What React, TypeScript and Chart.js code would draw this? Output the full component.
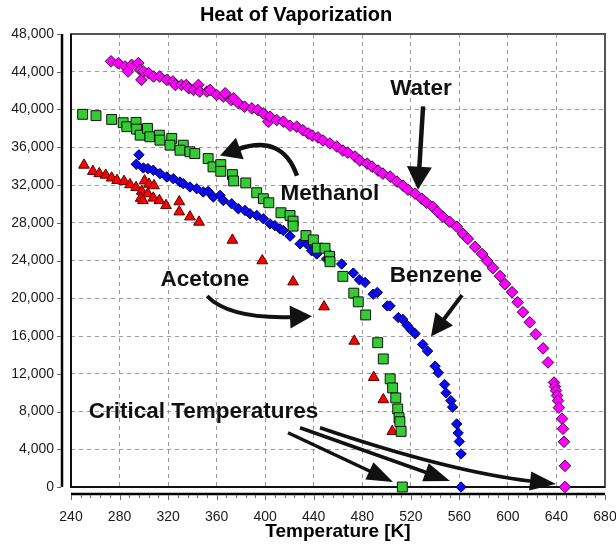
import React, { useEffect, useRef } from 'react';
import { Chart, registerables } from 'chart.js';

Chart.register(...registerables);

const FONT = '"Liberation Sans", Arial, Helvetica, sans-serif';

// Axis ranges / ticks
const X_MIN = 240;
const X_MAX = 680;
const X_STEP = 40;
const X_MINOR = 8;
const Y_MIN = 0;
const Y_MAX = 48000;
const Y_STEP = 4000;

// [Temperature K, Heat of vaporization J/mol]
const water: [number, number][] = [
  [273, 45100], [279, 44900], [284.5, 44560], [287, 44030], [290, 44730], [295.5, 44910],
  [297, 44200], [298, 43140], [299.6, 44030], [304, 43850], [308, 43500], [313, 43500],
  [319, 43140], [324, 42970], [326, 42600], [331, 42600], [335, 42600], [337, 42250],
  [341, 42070], [345, 42600], [346, 41900], [352, 41900], [354.5, 42070], [360, 41540],
  [365.5, 41370], [367, 41720], [372, 41010], [374, 41190], [378, 40660], [383, 40300],
  [389, 40120], [394, 39940], [398.5, 39590], [402.6, 38710], [404, 39240], [409.5, 38880],
  [415, 38710], [420.5, 38280], [426, 38180], [431, 37810], [435.5, 37460], [438.6, 37250],
  [443.5, 37040], [447.6, 36720], [453.4, 36400], [459, 36080], [464, 35650], [468, 35440],
  [474, 35020], [478, 34590], [484, 34270], [488, 33950], [493, 33530], [497, 33210],
  [503, 32890], [508.6, 32360], [513.6, 31930], [517.7, 31500], [523.5, 31080], [529, 30550],
  [533, 30120], [538, 29690], [542, 29160], [546.5, 28630], [552, 28100], [558, 27570],
  [563, 26820], [567, 26290], [573, 25440], [578.7, 24690], [583, 23950], [587.7, 23200],
  [593.5, 22350], [597.6, 21500], [603.4, 20650], [608, 19580], [612.4, 18520], [618, 17450],
  [623, 16180], [629, 14690], [633, 13200], [638, 11070], [638.8, 10640], [639.6, 10220],
  [640.5, 9690], [641.3, 9150], [642, 8410], [644.6, 7240], [645.4, 6170], [646.2, 4790],
  [647, 2240], [647, 0],
];

const methanol: [number, number][] = [
  [249.6, 39490], [260.6, 39350], [273.5, 38950], [283, 38600], [286, 38180], [293.6, 38630],
  [294, 37920], [297, 37280], [303, 38000], [305, 37110], [312.8, 37280], [313.3, 36750],
  [323, 36930], [321.6, 36220], [332.5, 36220], [329.8, 35690], [338, 35520], [342, 35330],
  [353, 34800], [357, 33920], [363.4, 34160], [363.4, 33450], [373, 33100], [374, 32430],
  [384, 32220], [393, 31180], [398.5, 30550], [403, 30120], [413, 29060], [420.5, 28770],
  [423, 28170], [423, 27640], [433.6, 26640], [439.7, 26180], [443, 25300], [449.3, 25300],
  [453, 24450], [453.4, 23870], [464, 22320], [473, 20540], [476.7, 19620], [482.8, 18230],
  [492.7, 15290], [497.3, 13570], [503, 11460], [505, 10500], [507.6, 9440], [509.2, 8270],
  [510.3, 7340], [511, 6920], [512, 5890], [513, 0],
];

const benzene: [number, number][] = [
  [296, 35200], [293.8, 34200], [299.6, 33810], [303.4, 33740], [307.8, 33560], [313.3, 33210],
  [318.9, 32850], [324.3, 32670], [329.8, 32320], [332.5, 32140], [338, 31790], [343.6, 31610],
  [349, 31260], [353, 31320], [357.3, 30730], [362.8, 30900], [365.5, 30360], [372.4, 30010],
  [377.9, 29480], [383.4, 29300], [387.5, 28950], [393, 28770], [398.5, 28420], [404, 27880],
  [408, 27700], [412.2, 27350], [415, 27170], [420.5, 26580], [428.7, 25760], [434.2, 25760],
  [438.3, 25040], [442.5, 24690], [450.7, 24160], [453.4, 24590], [463, 23630], [472.6, 22670],
  [477.6, 21960], [482.3, 21680], [489, 20430], [492.4, 20620], [500.6, 19190], [502.9, 19190],
  [509.7, 17950], [513.3, 17770], [516.9, 17140], [520.2, 16640], [523.5, 16250], [529.8, 15110],
  [533.8, 14400], [540, 12800], [542.7, 12100], [547.8, 10860], [549, 9970], [553, 9150],
  [554.4, 8460], [557.8, 6680], [559, 5720], [560, 4820], [561.4, 3510], [561.4, 0],
];

const acetone: [number, number][] = [
  [250.7, 34110], [258, 33450], [263.3, 33210], [268.6, 33050], [273.5, 32750], [278, 32490],
  [283.7, 32390], [288.6, 32040], [293.6, 31740], [300.6, 32440], [304.3, 32090], [308.4, 31930],
  [298.3, 31340], [303.3, 31080], [307.8, 30620], [312.8, 30360], [318.3, 29830], [297.4, 30600],
  [299.3, 30360], [329.2, 30230], [329.2, 29160], [338, 28630], [345.5, 28070], [373, 26160],
  [397.6, 23980], [423, 21740], [448.5, 19100], [473.4, 15460], [489.4, 11620], [497.3, 9260],
  [504.7, 5890],
];

// Annotation labels (data coordinates of text centre)
const noteTexts = ['Water', 'Methanol', 'Benzene', 'Acetone', 'Critical Temperatures'];
const noteAt: [number, number][] = [
  [528.4, 42150], [453.4, 31080], [540.8, 22350], [350.4, 21930], [349.2, 7980],
];

// Arrows: path points in data coordinates (2 = straight, 3 = quadratic), last = tip
const arrowPaths: [number, number][][] = [
  [[530.1, 40340], [525.9, 31500]],
  [[426.2, 32990], [413.9, 37460], [362.8, 35120]],
  [[562.2, 20330], [536.6, 15960]],
  [[352.1, 20220], [371.0, 17770], [438.6, 18090]],
  [[418.8, 5750], [505.3, 530]],
  [[428.7, 6280], [552.3, 640]],
  [[445.2, 6280], [552.3, 1600], [639.6, 320]],
];
const arrowStyle: [number, number, number][] = [
  // line width, head length, head width
  [4.5, 23, 25], [4.5, 21, 23], [4, 22, 22], [4, 22, 23], [3.5, 26, 19], [3.5, 26, 19], [3.5, 26, 19],
];

function toPts(arr: [number, number][]) {
  return arr.map(([x, y]) => ({ x, y }));
}

function drawArrow(ctx: CanvasRenderingContext2D, pts: [number, number][], lw: number, hl: number, hw: number) {
  const tip = pts[pts.length - 1];
  const prev = pts[pts.length - 2];
  let dx = tip[0] - prev[0];
  let dy = tip[1] - prev[1];
  const len = Math.hypot(dx, dy) || 1;
  dx /= len;
  dy /= len;
  const bx = tip[0] - dx * hl;
  const by = tip[1] - dy * hl;
  ctx.lineWidth = lw;
  ctx.lineCap = 'butt';
  ctx.beginPath();
  ctx.moveTo(pts[0][0], pts[0][1]);
  if (pts.length === 3) ctx.quadraticCurveTo(pts[1][0], pts[1][1], bx + dx * 3, by + dy * 3);
  else ctx.lineTo(bx + dx * 3, by + dy * 3);
  ctx.stroke();
  ctx.beginPath();
  ctx.moveTo(tip[0], tip[1]);
  ctx.lineTo(bx - (dy * hw) / 2, by + (dx * hw) / 2);
  ctx.lineTo(bx + (dy * hw) / 2, by - (dx * hw) / 2);
  ctx.closePath();
  ctx.fill();
}

const decor = {
  id: 'decor',
  beforeDatasetsDraw(chart: any) {
    const { ctx, chartArea: a, scales } = chart;
    const xs = scales.x;
    const ys = scales.y;
    ctx.save();
    // plot frame
    ctx.lineWidth = 2;
    ctx.strokeStyle = '#555';
    ctx.strokeRect(a.left, a.top, a.right - a.left, a.bottom - a.top);
    ctx.strokeStyle = '#111';
    ctx.beginPath();
    ctx.moveTo(a.left, a.top);
    ctx.lineTo(a.left, a.bottom);
    ctx.lineTo(a.right, a.bottom);
    ctx.stroke();

    // offset y axis
    const ax = a.left - 9;
    ctx.strokeStyle = '#000';
    ctx.lineWidth = 2.5;
    ctx.beginPath();
    ctx.moveTo(ax, a.top);
    ctx.lineTo(ax, a.bottom);
    ctx.stroke();
    ctx.lineWidth = 1;
    ctx.strokeStyle = '#666';
    ctx.beginPath();
    for (let v = Y_MIN; v <= Y_MAX; v += Y_STEP) {
      const py = Math.round(ys.getPixelForValue(v)) + 0.5;
      ctx.moveTo(ax - 5, py);
      ctx.lineTo(ax - 1, py);
    }
    ctx.stroke();

    // offset x axis
    const ay = a.bottom + 7;
    ctx.strokeStyle = '#000';
    ctx.lineWidth = 2.5;
    ctx.beginPath();
    ctx.moveTo(a.left, ay);
    ctx.lineTo(a.right, ay);
    ctx.stroke();
    ctx.lineWidth = 1;
    ctx.strokeStyle = '#666';
    ctx.beginPath();
    for (let v = X_MIN; v <= X_MAX; v += X_MINOR) {
      const px = Math.round(xs.getPixelForValue(v)) + 0.5;
      const major = (v - X_MIN) % X_STEP === 0;
      ctx.moveTo(px, ay + 1);
      ctx.lineTo(px, ay + (major ? 6 : 4));
    }
    ctx.stroke();
    ctx.restore();
  },
  afterDraw(chart: any) {
    const { ctx, scales } = chart;
    const xs = scales.x;
    const ys = scales.y;
    ctx.save();
    ctx.fillStyle = '#111';
    ctx.strokeStyle = '#111';
    arrowPaths.forEach((path, i) => {
      const pts = path.map(([t, h]) => [xs.getPixelForValue(t), ys.getPixelForValue(h)] as [number, number]);
      const [lw, hl, hw] = arrowStyle[i];
      drawArrow(ctx, pts, lw, hl, hw);
    });
    ctx.font = `bold 22.5px ${FONT}`;
    ctx.textAlign = 'center';
    ctx.textBaseline = 'middle';
    noteTexts.forEach((t, i) => {
      ctx.fillText(t, xs.getPixelForValue(noteAt[i][0]), ys.getPixelForValue(noteAt[i][1]));
    });
    // chart title
    ctx.fillStyle = '#000';
    ctx.font = `bold 20px ${FONT}`;
    ctx.fillText('Heat of Vaporization', 296, 15);
    ctx.restore();
  },
};

export default function App() {
  const ref = useRef<HTMLCanvasElement>(null);
  useEffect(() => {
    document.body.style.margin = '0';
    const gridCommon = { color: '#9a9a9a', lineWidth: 1, drawTicks: false };
    const chart = new Chart(ref.current as HTMLCanvasElement, {
      type: 'scatter',
      data: {
        datasets: [
          {
            label: 'Water', data: toPts(water), pointStyle: 'rectRot', pointRadius: 5.8,
            backgroundColor: '#ff00ff', borderColor: '#3a0a3a', borderWidth: 1, clip: false,
          },
          {
            label: 'Methanol', data: toPts(methanol), pointStyle: 'rect', pointRadius: 7,
            backgroundColor: '#33cc33', borderColor: '#111', borderWidth: 1, clip: false,
          },
          {
            label: 'Benzene', data: toPts(benzene), pointStyle: 'rectRot', pointRadius: 5.2,
            backgroundColor: '#0a0af5', borderColor: '#000050', borderWidth: 1, clip: false,
          },
          {
            label: 'Acetone', data: toPts(acetone), pointStyle: 'triangle', pointRadius: 6.2,
            backgroundColor: '#ff0000', borderColor: '#500000', borderWidth: 1, clip: false,
          },
        ] as any,
      },
      options: {
        responsive: false,
        animation: false,
        events: [],
        layout: { padding: { top: 34, right: 11, left: 0, bottom: 0 } },
        plugins: { legend: { display: false }, tooltip: { enabled: false }, title: { display: false } },
        scales: {
          x: {
            type: 'linear', min: X_MIN, max: X_MAX, position: 'bottom',
            ticks: { stepSize: X_STEP, color: '#1a1a1a', font: { family: FONT, size: 14 }, padding: 22, maxRotation: 0, autoSkip: false },
            grid: gridCommon,
            border: { display: false, dash: [4, 4] },
            title: { display: true, text: 'Temperature [K]', color: '#000', font: { family: FONT, size: 19, weight: 'bold' }, padding: { top: 0, bottom: 1 } },
            afterFit: (s: any) => { s.height = 57; s.paddingLeft = 0; s.paddingRight = 0; },
          },
          y: {
            type: 'linear', min: Y_MIN, max: Y_MAX,
            ticks: {
              stepSize: Y_STEP, color: '#1a1a1a', font: { family: FONT, size: 14 }, padding: 17,
              callback: (v: any) => Number(v).toLocaleString('en-US'),
            },
            grid: gridCommon,
            border: { display: false, dash: [4, 4] },
            afterFit: (s: any) => { s.width = 71; s.paddingTop = 0; s.paddingBottom = 0; },
          },
        } as any,
      },
      plugins: [decor],
    });
    return () => chart.destroy();
  }, []);
  return (
    <div style={{ position: 'relative', width: 616, height: 544 }}>
      <canvas ref={ref} width={616} height={544} style={{ display: 'block', width: 616, height: 544 }} />
    </div>
  );
}
